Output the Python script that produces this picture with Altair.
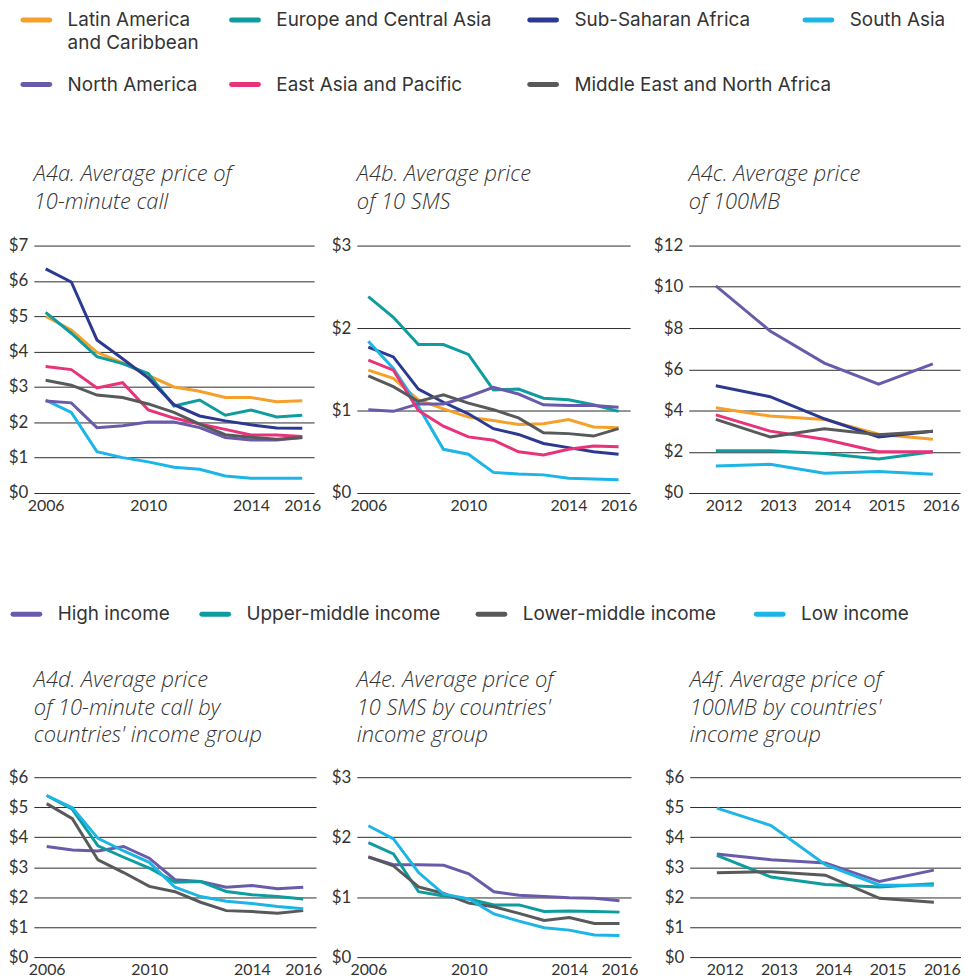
import altair as alt
import pandas as pd

# ---------------- data ----------------
years_long = list(range(2006, 2017))
years_short = list(range(2012, 2017))

regions = ["Latin America and Caribbean", "Europe and Central Asia", "Sub-Saharan Africa",
           "South Asia", "North America", "East Asia and Pacific", "Middle East and North Africa"]
region_colors = ["#F5A02A", "#0E9C9E", "#2B3990", "#1CB5E6", "#6A5BAA", "#E8327A", "#58595B"]

incomes = ["High income", "Upper-middle income", "Lower-middle income", "Low income"]
income_colors = ["#6A5BAA", "#0E9C9E", "#58595B", "#1CB5E6"]

# A4a. Average price of 10-minute call (USD)
a4a = {
    "Latin America and Caribbean": [5.00, 4.61, 3.98, 3.68, 3.33, 3.00, 2.88, 2.70, 2.70, 2.58, 2.61],
    "Europe and Central Asia": [5.11, 4.52, 3.86, 3.66, 3.38, 2.46, 2.63, 2.20, 2.35, 2.15, 2.20],
    "Sub-Saharan Africa": [6.34, 5.97, 4.33, 3.80, 3.25, 2.50, 2.18, 2.04, 1.93, 1.84, 1.83],
    "South Asia": [2.63, 2.28, 1.17, 1.00, 0.88, 0.73, 0.67, 0.48, 0.42, 0.42, 0.42],
    "North America": [2.60, 2.55, 1.85, 1.90, 2.01, 2.01, 1.85, 1.57, 1.50, 1.50, 1.57],
    "East Asia and Pacific": [3.58, 3.49, 2.97, 3.12, 2.35, 2.12, 1.95, 1.80, 1.64, 1.64, 1.60],
    "Middle East and North Africa": [3.19, 3.05, 2.77, 2.70, 2.52, 2.28, 1.95, 1.65, 1.58, 1.52, 1.57],
}
# A4b. Average price of 10 SMS
a4b = {
    "Latin America and Caribbean": [1.49, 1.39, 1.13, 1.02, 0.92, 0.88, 0.83, 0.84, 0.89, 0.80, 0.79],
    "Europe and Central Asia": [2.38, 2.13, 1.80, 1.80, 1.68, 1.25, 1.26, 1.15, 1.13, 1.07, 0.99],
    "Sub-Saharan Africa": [1.77, 1.65, 1.26, 1.10, 0.96, 0.78, 0.71, 0.60, 0.55, 0.50, 0.47],
    "South Asia": [1.84, 1.51, 1.05, 0.53, 0.47, 0.25, 0.23, 0.22, 0.18, 0.17, 0.16],
    "North America": [1.01, 0.99, 1.08, 1.08, 1.17, 1.28, 1.20, 1.07, 1.06, 1.06, 1.04],
    "East Asia and Pacific": [1.61, 1.49, 1.00, 0.81, 0.68, 0.64, 0.50, 0.46, 0.53, 0.57, 0.56],
    "Middle East and North Africa": [1.42, 1.29, 1.11, 1.19, 1.09, 1.01, 0.91, 0.73, 0.72, 0.69, 0.78],
}
# A4c. Average price of 100MB
a4c = {
    "Latin America and Caribbean": [4.13, 3.73, 3.57, 2.85, 2.61],
    "Europe and Central Asia": [2.05, 2.05, 1.92, 1.65, 2.00],
    "Sub-Saharan Africa": [5.20, 4.67, 3.60, 2.72, 3.00],
    "South Asia": [1.31, 1.39, 0.96, 1.04, 0.91],
    "North America": [10.05, 7.86, 6.30, 5.28, 6.26],
    "East Asia and Pacific": [3.79, 3.00, 2.61, 2.00, 2.00],
    "Middle East and North Africa": [3.57, 2.72, 3.12, 2.83, 3.00],
}
# A4d. 10-minute call by income group
a4d = {
    "High income": [3.69, 3.57, 3.54, 3.69, 3.30, 2.58, 2.52, 2.33, 2.39, 2.28, 2.33],
    "Upper-middle income": [5.39, 4.93, 3.71, 3.33, 2.97, 2.50, 2.52, 2.19, 2.08, 2.02, 1.94],
    "Lower-middle income": [5.12, 4.62, 3.24, 2.82, 2.36, 2.18, 1.83, 1.55, 1.52, 1.46, 1.55],
    "Low income": [5.39, 4.98, 3.96, 3.54, 3.16, 2.33, 2.02, 1.86, 1.79, 1.69, 1.61],
}
# A4e. 10 SMS by income group
a4e = {
    "High income": [1.67, 1.54, 1.54, 1.53, 1.39, 1.09, 1.03, 1.01, 0.99, 0.98, 0.94],
    "Upper-middle income": [1.91, 1.72, 1.09, 1.02, 0.97, 0.87, 0.87, 0.76, 0.77, 0.76, 0.75],
    "Lower-middle income": [1.67, 1.52, 1.17, 1.06, 0.90, 0.84, 0.73, 0.61, 0.66, 0.56, 0.56],
    "Low income": [2.19, 1.97, 1.41, 1.05, 0.97, 0.72, 0.60, 0.49, 0.45, 0.37, 0.36],
}
# A4f. 100MB by income group
a4f = {
    "High income": [3.44, 3.25, 3.14, 2.52, 2.90],
    "Upper-middle income": [3.39, 2.67, 2.42, 2.34, 2.45],
    "Lower-middle income": [2.81, 2.85, 2.73, 1.96, 1.83],
    "Low income": [4.97, 4.39, 3.08, 2.40, 2.40],
}

# ---------------- styling ----------------
TEXT = "#333333"
GRID = "#2b2b2b"
TITLE_FONT = "Open Sans"
AXIS_FONT = "Lato"
LEGEND_FONT = "Inter"


def to_long(series, years, field):
    rows = []
    for name, vals in series.items():
        for yr, v in zip(years, vals):
            rows.append({field: name, "year": yr, "price": v})
    return pd.DataFrame(rows)


def panel(series, years, field, names, colors, title, ymax, ystep, xvals, xpad, width, height,
          label_offset=0, title_offset=1):
    df = to_long(series, years, field)
    return alt.Chart(df).mark_line(strokeWidth=3).encode(
        x=alt.X("year:Q",
                scale=alt.Scale(domain=[years[0] - xpad, years[-1] + xpad], nice=False, zero=False),
                axis=alt.Axis(values=xvals, format="d", title=None, domain=False, ticks=False,
                              grid=False, labelFont=AXIS_FONT, labelFontSize=16, labelColor=TEXT,
                              labelPadding=5, labelOffset=label_offset)),
        y=alt.Y("price:Q",
                scale=alt.Scale(domain=[0, ymax], nice=False, zero=True),
                axis=alt.Axis(values=list(range(0, ymax + 1, ystep)), labelExpr="'$' + datum.value",
                              title=None, domain=False, ticks=False, grid=True, gridColor=GRID,
                              gridWidth=1, labelFont=AXIS_FONT, labelFontSize=17, labelColor=TEXT,
                              labelPadding=6)),
        color=alt.Color(f"{field}:N", scale=alt.Scale(domain=names, range=colors), legend=None),
    ).properties(
        width=width, height=height,
        title=alt.TitleParams(text=title, anchor="start", frame="group", font=TITLE_FONT,
                              fontSize=22, fontStyle="italic", fontWeight=300, color=TEXT,
                              lineHeight=28, baseline="bottom", offset=title_offset),
    )


ORIGIN_X = 34  # page x of the plot-area left edge (layout constant)


def legend_chart(names, colors, swatch_x_page, rows_y, per_row, height):
    display = [n.replace("Latin America and Caribbean", "Latin America\nand Caribbean") for n in names]
    xs, ys = [], []
    for i in range(len(names)):
        xs.append(swatch_x_page[i % per_row] - ORIGIN_X)
        ys.append(rows_y[i // per_row])
    df = pd.DataFrame({"name": names, "color": colors, "label": display, "x": xs, "y": ys})
    df["x2"] = df["x"] + 27
    df["tx"] = df["x"] + 45
    df["ty"] = df["y"] - 9
    sw = alt.Chart(df).mark_rule(strokeWidth=5, strokeCap="round").encode(
        x=alt.X("x:Q", scale=None, axis=None), x2="x2:Q",
        y=alt.Y("y:Q", scale=None, axis=None),
        color=alt.Color("color:N", scale=None, legend=None),
    )
    tx = alt.Chart(df).mark_text(align="left", baseline="top", font=LEGEND_FONT, fontSize=19,
                                 color=TEXT, lineBreak="\n", lineHeight=23).encode(
        x=alt.X("tx:Q", scale=None, axis=None),
        y=alt.Y("ty:Q", scale=None, axis=None),
        text="label:N",
    )
    return alt.layer(sw, tx).properties(width=890, height=height)


legend1 = legend_chart(regions, region_colors, [23, 233, 533, 810], [9, 74], 4, 153)
legend2 = legend_chart(incomes, income_colors, [13, 203, 481, 761], [101], 4, 156)

pa = panel(a4a, years_long, "region", regions, region_colors,
           ["A4a. Average price of", "10-minute call"], 7, 1, [2006, 2010, 2014, 2016], 0.46, 282, 249)
pb = panel(a4b, years_long, "region", regions, region_colors,
           ["A4b. Average price", "of 10 SMS"], 3, 1, [2006, 2010, 2014, 2016], 0.46, 275, 249)
pc = panel(a4c, years_short, "region", regions, region_colors,
           ["A4c. Average price", "of 100MB"], 12, 2, years_short, 0.5, 273, 249, label_offset=8)

pd_ = panel(a4d, years_long, "income", incomes, income_colors,
            ["A4d. Average price", "of 10-minute call by", "countries' income group"], 6, 1,
            [2006, 2010, 2014, 2016], 0.5, 284, 181, title_offset=-1)
pe = panel(a4e, years_long, "income", incomes, income_colors,
           ["A4e. Average price of", "10 SMS by countries'", "income group"], 3, 1,
           [2006, 2010, 2014, 2016], 0.46, 276, 181, title_offset=-1)
pf = panel(a4f, years_short, "income", incomes, income_colors,
           ["A4f. Average price of", "100MB by countries'", "income group"], 6, 1,
           years_short, 0.5, 273, 181, label_offset=8, title_offset=-1)

row1 = alt.hconcat(alt.hconcat(pa, pb, spacing=10), pc, spacing=16)
row2 = alt.hconcat(alt.hconcat(pd_, pe, spacing=9), pf, spacing=26)

chart = alt.vconcat(legend1, row1, legend2, row2, spacing=0).resolve_scale(
    color="independent", x="independent", y="independent"
).properties(
    padding={"left": 0, "top": 0, "right": 0, "bottom": 0}
).configure_view(stroke=None)

chart.save("out.html", embed_options={"renderer": "svg", "actions": False})
